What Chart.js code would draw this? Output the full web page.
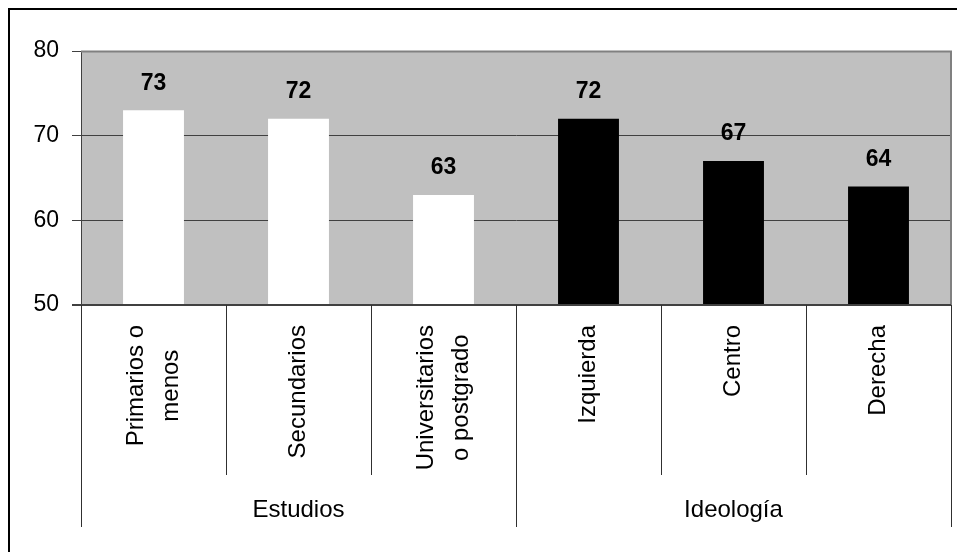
<!DOCTYPE html>
<html>
<head>
<meta charset="utf-8">
<script src="https://cdn.jsdelivr.net/npm/chart.js@4/dist/chart.umd.min.js"></script>
<style>
  html, body { margin: 0; padding: 0; background: #fff; }
  canvas { display: block; }
</style>
</head>
<body>
<canvas id="myChart" width="957" height="552"></canvas>
<script>
var categories = [['Primarios o', 'menos'], ['Secundarios'], ['Universitarios', 'o postgrado'], ['Izquierda'], ['Centro'], ['Derecha']];
var values = [73, 72, 63, 72, 67, 64];
var barColors = ['#ffffff', '#ffffff', '#ffffff', '#000000', '#000000', '#000000'];
var groups = ['Estudios', 'Ideología'];
var groupSizes = [3, 3];
var yTicks = [50, 60, 70, 80];

var FONT = '"Liberation Sans", Arial, sans-serif';

var decor = {
  id: 'decor',
  beforeDraw: function (chart) {
    var c = chart.ctx, a = chart.chartArea;
    c.save();
    c.fillStyle = '#fff';
    c.fillRect(0, 0, chart.width, chart.height);
    c.fillStyle = '#c0c0c0';
    c.fillRect(a.left, a.top, a.right - a.left, a.bottom - a.top);
    c.restore();
  },
  afterDatasetsDraw: function (chart) {
    var c = chart.ctx;
    var meta = chart.getDatasetMeta(0);
    c.save();
    c.fillStyle = '#000';
    c.font = 'bold 23px ' + FONT;
    c.textAlign = 'center';
    c.textBaseline = 'middle';
    meta.data.forEach(function (bar, i) {
      c.fillText(String(values[i]), bar.x, bar.y - 27);
    });
    c.restore();
  },
  afterDraw: function (chart) {
    var c = chart.ctx, a = chart.chartArea, xs = chart.scales.x;
    var n = categories.length;
    var step = (a.right - a.left) / n;
    c.save();
    // plot frame (top/right grey)
    c.strokeStyle = '#808080';
    c.lineWidth = 2;
    c.beginPath();
    c.moveTo(a.left, a.top + 0.5);
    c.lineTo(a.right, a.top + 0.5);
    c.lineTo(a.right, a.bottom);
    c.stroke();
    // bottom axis line
    c.strokeStyle = '#404040';
    c.beginPath();
    c.moveTo(a.left - 9, a.bottom);
    c.lineTo(a.right, a.bottom);
    c.stroke();

    // separators
    c.lineWidth = 1;
    c.strokeStyle = '#303030';
    var groupEdges = [0];
    var acc = 0;
    groupSizes.forEach(function (s) { acc += s; groupEdges.push(acc); });
    for (var k = 0; k <= n; k++) {
      var x = Math.round(a.left + k * step) + 0.5;
      var isGroup = groupEdges.indexOf(k) >= 0;
      c.beginPath();
      c.moveTo(x, a.bottom);
      c.lineTo(x, isGroup ? 527 : 475);
      c.stroke();
    }

    // category labels (rotated)
    c.fillStyle = '#000';
    c.font = '24px ' + FONT;
    c.textAlign = 'center';
    c.textBaseline = 'middle';
    var topY = a.bottom + 20;
    categories.forEach(function (lines, i) {
      var cx = xs.getPixelForValue(i);
      var maxLen = 0;
      lines.forEach(function (t) { maxLen = Math.max(maxLen, c.measureText(t).width); });
      var spacing = 35;
      lines.forEach(function (t, j) {
        var lx = cx + (j - (lines.length - 1) / 2) * spacing;
        c.save();
        c.translate(lx, topY + maxLen / 2);
        c.rotate(-Math.PI / 2);
        c.fillText(t, 0, 0);
        c.restore();
      });
    });

    // group labels
    c.font = '24px ' + FONT;
    var start = 0;
    groups.forEach(function (g, gi) {
      var x0 = a.left + start * step;
      var x1 = a.left + (start + groupSizes[gi]) * step;
      c.fillText(g, (x0 + x1) / 2, 510);
      start += groupSizes[gi];
    });

    // outer border (top and left)
    c.strokeStyle = '#000';
    c.lineWidth = 2;
    c.beginPath();
    c.moveTo(9, chart.height);
    c.lineTo(9, 9);
    c.lineTo(chart.width, 9);
    c.stroke();
    c.restore();
  }
};

var ctx = document.getElementById('myChart');
var myChart = new Chart(ctx, {
  type: 'bar',
  data: {
    labels: categories,
    datasets: [{
      data: values,
      backgroundColor: barColors,
      borderWidth: 0,
      barPercentage: 0.42,
      categoryPercentage: 1
    }]
  },
  options: {
    responsive: false,
    animation: false,
    layout: { padding: { top: 51, right: 6, left: 0, bottom: 0 } },
    plugins: {
      legend: { display: false },
      tooltip: { enabled: false }
    },
    scales: {
      x: {
        grid: { display: false },
        border: { display: false },
        ticks: { display: false },
        afterFit: function (s) { s.height = 247; }
      },
      y: {
        min: 50,
        max: 80,
        afterFit: function (s) { s.width = 81; },
        afterBuildTicks: function (s) { s.ticks = yTicks.map(function (v) { return { value: v }; }); },
        border: { color: '#404040', width: 1 },
        grid: {
          color: '#404040',
          lineWidth: 1,
          tickLength: 9,
          tickColor: '#404040'
        },
        ticks: {
          color: '#000',
          padding: 13,
          font: { family: FONT, size: 23 }
        }
      }
    }
  },
  plugins: [decor]
});
</script>
</body>
</html>
